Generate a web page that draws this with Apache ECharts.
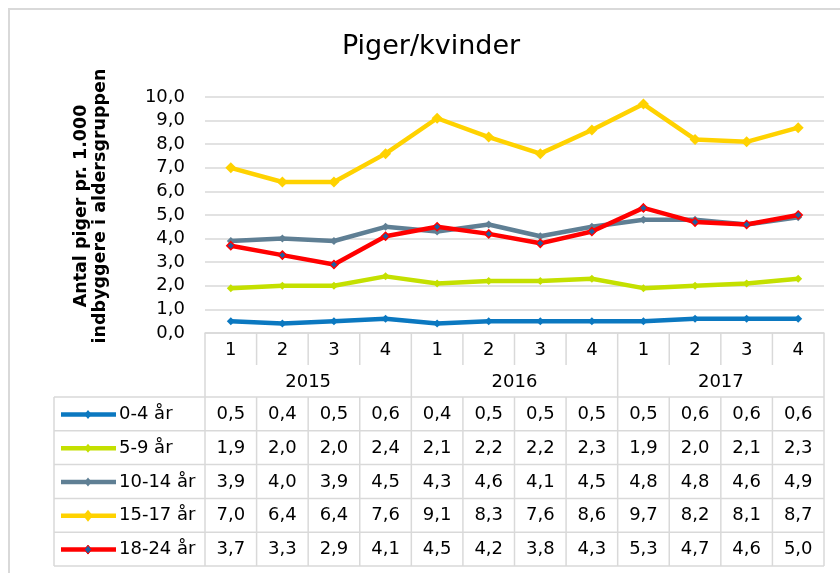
<!DOCTYPE html>
<html>
<head>
<meta charset="utf-8">
<script src="https://cdn.jsdelivr.net/npm/echarts@6/dist/echarts.min.js"></script>
<style>
html,body{margin:0;padding:0;background:#fff;}
#c{width:840px;height:573px;}
</style>
</head>
<body>
<div id="c"></div>
<script>
// ---- data ----
var quarters = ['1','2','3','4','1','2','3','4','1','2','3','4'];
var years = ['2015','2016','2017'];
var seriesNames = ['0-4 år','5-9 år','10-14 år','15-17 år','18-24 år'];
var s0_4   = [0.5,0.4,0.5,0.6,0.4,0.5,0.5,0.5,0.5,0.6,0.6,0.6];
var s5_9   = [1.9,2.0,2.0,2.4,2.1,2.2,2.2,2.3,1.9,2.0,2.1,2.3];
var s10_14 = [3.9,4.0,3.9,4.5,4.3,4.6,4.1,4.5,4.8,4.8,4.6,4.9];
var s15_17 = [7.0,6.4,6.4,7.6,9.1,8.3,7.6,8.6,9.7,8.2,8.1,8.7];
var s18_24 = [3.7,3.3,2.9,4.1,4.5,4.2,3.8,4.3,5.3,4.7,4.6,5.0];
var yTicks = [0,1,2,3,4,5,6,7,8,9,10];

// ---- styles ----
var FONT = 'DejaVu Sans';
var GRID_C = '#d9d9d9';
var colors = ['#0b78c0','#c4e000','#5f7f94','#ffd200','#ff0000'];
var symSizes = [8,8,8,11,8];
var symbols = ['diamond','diamond','diamond','diamond','diamond'];
var allData = [s0_4,s5_9,s10_14,s15_17,s18_24];

function fmt(v){ return v.toFixed(1).replace('.', ','); }

var chart = echarts.init(document.getElementById('c'), null, {renderer:'canvas'});

var series = seriesNames.map(function(n, i){
  var item = {
    name: n, type: 'line', data: allData[i], xAxisIndex: 0, yAxisIndex: 0,
    symbol: symbols[i], symbolSize: symSizes[i], showSymbol: true,
    lineStyle: {color: colors[i], width: 4.5},
    itemStyle: {color: colors[i]},
    z: 3 + i, animation: false, silent: true
  };
  if (i === 4) item.itemStyle = {color: '#1f5fa0', borderColor: '#ff0000', borderWidth: 1.5};
  return item;
});

chart.setOption({
  animation: false,
  grid: {left: 205, right: 16, top: 97, bottom: 240, containLabel: false},
  xAxis: [{
    type: 'category', data: quarters, boundaryGap: true, position: 'bottom',
    axisLine: {show: true, lineStyle: {color: GRID_C, width: 1.5}},
    axisTick: {show: false},
    axisLabel: {fontFamily: FONT, fontSize: 18, color: '#000', margin: 8, lineHeight: 18, interval: 0}
  },{
    type: 'category', data: years, boundaryGap: true, position: 'bottom', offset: 33,
    axisLine: {show: false}, axisTick: {show: false},
    axisLabel: {fontFamily: FONT, fontSize: 18, color: '#000', margin: 7, lineHeight: 18, interval: 0}
  }],
  yAxis: {
    type: 'value', min: yTicks[0], max: yTicks[yTicks.length-1], interval: 1,
    axisLine: {show: false}, axisTick: {show: false},
    splitLine: {lineStyle: {color: GRID_C, width: 1.5}},
    axisLabel: {fontFamily: FONT, fontSize: 18, color: '#000', margin: 20, formatter: function(v){ return fmt(v); }}
  },
  series: series
});

// ---- table & decorations built from axes ----
var c0 = chart.convertToPixel({xAxisIndex: 0}, 0);
var c1 = chart.convertToPixel({xAxisIndex: 0}, 1);
var bw = c1 - c0;
var xLeft = c0 - bw / 2;
var xRight = xLeft + bw * quarters.length;
var y0 = chart.convertToPixel({yAxisIndex: 0}, 0);
var qRowB = y0 + 33;
var yrRowB = y0 + 64;
var rowH = 33.8;
var tabLeft = 54;
var LINE = {stroke: GRID_C, lineWidth: 1.5};
var g = [];

function line(x1,y1,x2,y2){ g.push({type:'line', shape:{x1:x1,y1:y1,x2:x2,y2:y2}, style:LINE, silent:true, z:1}); }

// outer frame
g.push({type:'rect', shape:{x:9,y:9,width:900,height:700}, style:{stroke:GRID_C, fill:null, lineWidth:2}, silent:true, z:0});

// title
g.push({type:'text', x:431, y:47, style:{text:'Piger/kvinder', fontFamily:FONT, fontSize:27, fill:'#000', textAlign:'center', textVerticalAlign:'middle'}, silent:true});

// y axis title
g.push({type:'text', x:91, y:206, rotation: Math.PI/2,
  style:{text:'Antal piger pr. 1.000\nindbyggere i aldersgruppen', fontFamily:FONT, fontSize:17.5, fontWeight:'bold', lineHeight:18.5, fill:'#000', textAlign:'center', textVerticalAlign:'middle'}, silent:true});

// quarter row ticks & year boundaries
for (var k = 0; k <= quarters.length; k++) {
  var x = xLeft + bw * k;
  var isYear = (k % 4 === 0);
  var bottomQ = isYear ? yrRowB : qRowB - 1;
  line(x, y0, x, bottomQ);
  line(x, yrRowB, x, yrRowB + rowH * seriesNames.length);
}
// horizontal data-table lines
for (var r = 0; r <= seriesNames.length; r++) {
  var yy = yrRowB + rowH * r;
  line(tabLeft, yy, xRight, yy);
}
line(tabLeft, yrRowB, tabLeft, yrRowB + rowH * seriesNames.length);

// data cells + legend keys
seriesNames.forEach(function(n, i){
  var cy = yrRowB + rowH * i + rowH / 2 + 0.5;
  g.push({type:'line', shape:{x1:61,y1:cy,x2:116,y2:cy}, style:{stroke:colors[i], lineWidth:4.5}, silent:true, z:2});
  var s = (i === 3) ? 6 : 4.5;
  var fill = (i === 4) ? '#1f5fa0' : colors[i];
  g.push({type:'polygon', shape:{points:[[88,cy-s],[88+s*0.8,cy],[88,cy+s],[88-s*0.8,cy]]},
    style:{fill: fill, stroke: (i===4?'#ff0000':null), lineWidth:1}, silent:true, z:3});
  g.push({type:'text', x:119, y:cy, style:{text:n, fontFamily:FONT, fontSize:18, fill:'#000', textAlign:'left', textVerticalAlign:'middle'}, silent:true});
  allData[i].forEach(function(v, j){
    var cx = chart.convertToPixel({xAxisIndex: 0}, j);
    g.push({type:'text', x:cx, y:cy, style:{text:fmt(v), fontFamily:FONT, fontSize:18, fill:'#000', textAlign:'center', textVerticalAlign:'middle'}, silent:true});
  });
});

chart.setOption({graphic: {elements: g}});
</script>
</body>
</html>
